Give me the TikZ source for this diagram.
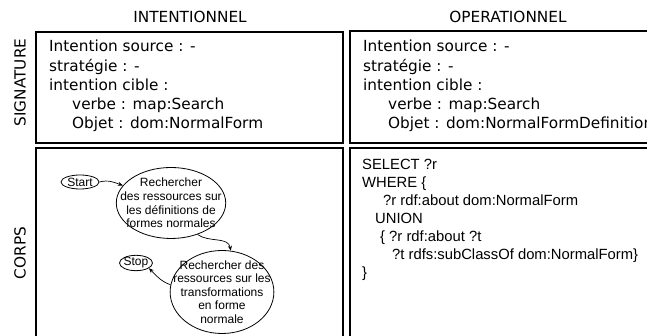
\documentclass[tikz,border=0pt]{standalone}
\usepackage{fontspec}
\setmainfont{DejaVu Sans}
\newfontfamily\arialfont{Liberation Sans}
\usetikzlibrary{shapes.geometric,arrows.meta}
\newcommand{\sigfont}{\fontsize{15.3}{18}\selectfont}
\newcommand{\qfont}{\arialfont\fontsize{14.8}{17}\selectfont}
\newcommand{\ellfont}{\arialfont\fontsize{12}{13.6}\selectfont}

\begin{document}
\begin{tikzpicture}[x=1pt, y=1pt,
  panel/.style={draw, line width=1.5pt},
  head/.style={font=\sigfont},
  sigline/.style={anchor=base west, inner sep=0pt, font=\sigfont},
  qline/.style={anchor=base west, inner sep=0pt, font=\qfont},
  state/.style={draw, ellipse, line width=0.8pt, align=center, font=\ellfont},
  flow/.style={->, line width=0.7pt, >={Stealth[length=5pt, width=4pt]}}]
\clip (0, 0) rectangle (647, 336);

% cadres
\draw [panel] (36, 304) rectangle (343, 193);
\draw [panel] (350, 305) rectangle (670, 193);
\draw [panel] (36, 188) rectangle (343, -10);
\draw [panel] (350, 188) rectangle (670, -10);

\node [head] (intent) at (190, 319) {INTENTIONNEL};
\node [head] (operat) at (508, 319) {OPERATIONNEL};
\node [head, rotate=90] (sign) at (20, 253.5) {SIGNATURE};
\node [head, rotate=90] (corps) at (20, 83) {CORPS};

% signature intentionnelle
\node [sigline] (si1) at (49, 284) {Intention source : -};
\node [sigline] (si2) at (49, 264.75) {stratégie : -};
\node [sigline] (si3) at (49, 245.5) {intention cible :};
\node [sigline] (si4) at (72, 226.25) {verbe : map:Search};
\node [sigline] (si5) at (72, 207) {Objet : dom:NormalForm};

% signature operationnelle
\node [sigline] (so1) at (363, 284) {Intention source : -};
\node [sigline] (so2) at (363, 264.75) {stratégie : -};
\node [sigline] (so3) at (363, 245.5) {intention cible :};
\node [sigline] (so4) at (388, 226.25) {verbe : map:Search};
\node [sigline] (so5) at (388, 207) {Objet : dom:NormalFormDefinition};

% corps intentionnel
\node [state, inner xsep=-1pt, inner ysep=0pt, minimum width=38, minimum height=14] (start) at (80, 154) {Start};
\node [state, inner xsep=-12pt, inner ysep=-4pt, minimum width=107, minimum height=71] (rech1) at (171, 133)
  {Rechercher\\des ressources sur\\les définitions de\\formes normales};
\node [state, inner xsep=-1pt, inner ysep=0pt, minimum width=33, minimum height=13] (stop) at (136, 73) {Stop};
\node [state, inner xsep=-12pt, inner ysep=-6pt, minimum width=103, minimum height=83] (rech2) at (222, 44)
  {Rechercher des\\ressources sur les\\transformations\\en forme\\normale};
\draw [flow] (start.east) to[out=15, in=160] (rech1.160);
\draw [flow] (rech1.-50) to[out=-35, in=100] (rech2.78);
\draw [flow] (rech2.172) to[out=160, in=-45] (stop.-22);

% corps operationnel
\node [qline] (q1) at (362, 166) {SELECT ?r};
\node [qline] (q2) at (362, 148) {WHERE \{};
\node [qline] (q3) at (383, 130) {?r rdf:about dom:NormalForm};
\node [qline] (q4) at (375, 112) {UNION};
\node [qline] (q5) at (380, 94) {\{ ?r rdf:about ?t};
\node [qline] (q6) at (392, 76) {?t rdfs:subClassOf dom:NormalForm\}};
\node [qline] (q7) at (362, 58) {\}};
\end{tikzpicture}
\end{document}
